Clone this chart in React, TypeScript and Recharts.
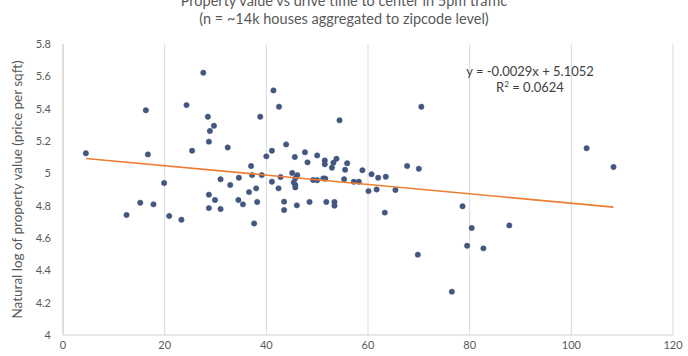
import React from 'react';
import { ScatterChart, Scatter, XAxis, YAxis, CartesianGrid, Label } from 'recharts';

const driveTime = [
  4.5, 12.5, 15.2, 16.3, 16.7, 17.8, 19.9, 20.9, 23.3, 24.3,
  25.4, 27.6, 28.5, 29.7, 28.9, 28.7, 32.4, 31.0, 34.6, 32.9,
  36.6, 28.7, 29.9, 28.7, 31.0, 34.5, 35.4, 37.0, 41.4, 42.5,
  38.8, 54.4, 70.5, 43.9, 41.1, 40.0, 47.6, 45.6, 50.0, 48.1,
  51.5, 51.5, 53.8, 53.2, 55.9, 52.9, 55.5, 58.9, 60.7, 62.0,
  63.5, 67.7, 70.0, 37.2, 39.1, 42.8, 45.1, 46.1, 45.7, 45.4,
  45.7, 45.7, 49.2, 50.0, 51.2, 51.6, 55.3, 57.2, 58.2, 41.1,
  42.4, 38.0, 60.1, 61.7, 65.4, 38.2, 37.6, 43.5, 43.5, 46.0,
  48.5, 51.8, 53.4, 53.4, 63.3, 69.8, 103.0, 108.3, 78.6, 80.4,
  79.5, 82.7, 87.8, 76.5,
];

const logPrice = [
  5.124, 4.742, 4.818, 5.39, 5.117, 4.808, 4.94, 4.736, 4.713, 5.422,
  5.14, 5.622, 5.35, 5.294, 5.262, 5.196, 5.16, 4.963, 4.973, 4.928,
  4.884, 4.868, 4.835, 4.785, 4.779, 4.835, 4.808, 5.045, 5.513, 5.412,
  5.35, 5.328, 5.412, 5.179, 5.14, 5.105, 5.13, 5.101, 5.111, 5.068,
  5.08, 5.056, 5.09, 5.066, 5.062, 5.035, 5.022, 5.019, 4.994, 4.973,
  4.979, 5.045, 5.028, 4.989, 4.989, 4.977, 5.002, 4.989, 4.969, 4.944,
  4.928, 4.913, 4.959, 4.957, 4.969, 4.967, 4.963, 4.948, 4.948, 4.948,
  4.907, 4.907, 4.89, 4.9, 4.897, 4.823, 4.69, 4.825, 4.773, 4.802,
  4.823, 4.823, 4.823, 4.8, 4.757, 4.497, 5.155, 5.039, 4.796, 4.662,
  4.552, 4.536, 4.678, 4.268,
];

const xTicks = [0, 20, 40, 60, 80, 100, 120];
const yTicks = [4, 4.2, 4.4, 4.6, 4.8, 5, 5.2, 5.4, 5.6, 5.8];

const trendSlope = -0.0029;
const trendIntercept = 5.1052;

const titleLines = [
  'Property value vs drive time to center in 5pm traffic',
  '(n = ~14k houses aggregated to zipcode level)',
];
const equationLine = 'y = -0.0029x + 5.1052';
const rSquaredValue = '0.0624';
const yLabel = 'Natural log of property value (price per sqft)';

const points = driveTime.map((x, i) => ({ x, y: logPrice[i] }));
const xMin = Math.min(...driveTime);
const xMax = Math.max(...driveTime);
const trend = [xMin, xMax].map((x) => ({ x, y: trendSlope * x + trendIntercept }));

const FONT = 'Lato, "Open Sans", sans-serif';
const TICK_COLOR = '#595959';

const Dot = (props: any) => {
  const { cx, cy } = props;
  if (cx == null || cy == null) return <g />;
  return <circle cx={cx} cy={cy} r={2.7} fill="#44577f" stroke="#3f5585" strokeWidth={0.5} />;
};

export default function App() {
  return (
    <div style={{ position: 'absolute', left: 0, top: 0, width: 688, height: 356, background: '#fff', fontFamily: FONT }}>
      <div style={{ position: 'absolute', left: 0, top: -8, width: 688, textAlign: 'center', color: '#595959', fontSize: 14.5, lineHeight: '18px' }}>
        <div>{titleLines[0]}</div>
        <div>{titleLines[1]}</div>
      </div>
      <ScatterChart width={688} height={356} margin={{ top: 44, right: 15, bottom: 1, left: 8 }}>
        <CartesianGrid horizontal={false} vertical={true} stroke="#d9d9d9" />
        <XAxis
          type="number"
          dataKey="x"
          domain={[0, 120]}
          ticks={xTicks}
          tickLine={false}
          axisLine={{ stroke: '#d0d0d0' }}
          tick={{ fill: TICK_COLOR, fontSize: 11, fontFamily: FONT }}
          height={20}
          tickMargin={0}
          allowDataOverflow
        />
        <YAxis
          type="number"
          dataKey="y"
          domain={[4, 5.8]}
          ticks={yTicks}
          tickLine={false}
          axisLine={{ stroke: '#d0d0d0' }}
          tick={{ fill: TICK_COLOR, fontSize: 11, fontFamily: FONT }}
          width={55}
          tickMargin={6}
          allowDataOverflow
        >
          <Label
            value={yLabel}
            angle={-90}
            position="insideLeft"
            offset={9}
            style={{ textAnchor: 'middle', fill: '#595959', fontSize: 13.5, fontFamily: FONT }}
          />
        </YAxis>
        <Scatter data={points} shape={Dot} isAnimationActive={false} />
        <Scatter
          data={trend}
          line={{ stroke: '#ED7D31', strokeWidth: 1.6 }}
          shape={() => <g />}
          isAnimationActive={false}
        />
      </ScatterChart>
      <div style={{ position: 'absolute', left: 435, top: 63, width: 190, textAlign: 'center', color: '#404040', fontSize: 13, lineHeight: '16px' }}>
        <div>{equationLine}</div>
        <div>R<sup style={{ fontSize: 8, verticalAlign: 'top', lineHeight: '10px' }}>2</sup> = {rSquaredValue}</div>
      </div>
    </div>
  );
}
